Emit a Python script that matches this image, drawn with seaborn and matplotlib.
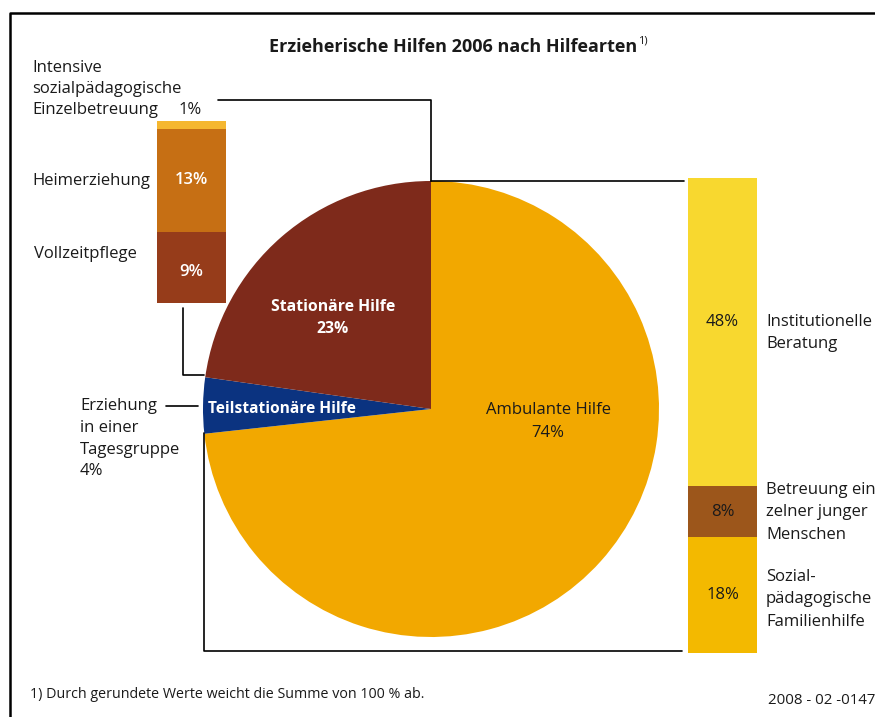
import matplotlib
matplotlib.use("Agg")
import matplotlib.pyplot as plt
import seaborn as sns
import numpy as np

# --- data ---
pie_labels = ["Ambulante Hilfe", "Teilstationäre Hilfe", "Stationäre Hilfe"]
pie_values = [74, 4, 23]
pie_colors = ["#F2A800", "#0B3380", "#7E2A1B"]

# stationary breakdown, listed bottom-up
stat_labels = ["Vollzeitpflege", "Heimerziehung", "Intensive sozialpädagogische Einzelbetreuung"]
stat_values = [9, 13, 1]
stat_colors = ["#963C1A", "#C66F14", "#F5B730"]

# ambulant breakdown, listed bottom-up
amb_labels = ["Sozialpädagogische Familienhilfe", "Betreuung einzelner junger Menschen",
              "Institutionelle Beratung"]
amb_values = [18, 8, 48]
amb_colors = ["#F3B900", "#9C561B", "#F8D82F"]

sns.set_theme(style="white")
plt.rcParams["font.family"] = ["Open Sans", "DejaVu Sans"]
TXT = "#1a1a1a"
W, H = 875, 717

fig = plt.figure(figsize=(W / 100, H / 100), dpi=100)
ax = fig.add_axes([0, 0, 1, 1])

# pie in pixel coordinates (y points down, so counterclock=True draws clockwise on screen)
ax.pie(pie_values, colors=pie_colors, startangle=-90, counterclock=True,
       center=(431, 409), radius=228, wedgeprops=dict(linewidth=0))
ax.set_xlim(0, W)
ax.set_ylim(H, 0)
ax.set_aspect("equal")
ax.axis("off")

# frame
ax.plot([10, 10, W], [H, 13, 13], color="black", lw=1.8, solid_capstyle="butt")

# connector lines
lk = dict(color="black", lw=1.2)
ax.plot([218, 431, 431], [100, 100, 181], **lk)
ax.plot([431, 684], [181, 181], **lk)
ax.plot([204, 204, 682], [433, 651, 651], **lk)
ax.plot([183, 183, 204], [308, 375, 375], **lk)
ax.plot([166, 198], [406, 406], **lk)


def stacked_bar(rect, values, colors):
    bax = fig.add_axes(rect)
    bottoms = np.concatenate([[0], np.cumsum(values)[:-1]])
    bax.bar(0, values, bottom=bottoms, width=1, color=colors, linewidth=0)
    bax.set_xlim(-0.5, 0.5)
    bax.set_ylim(0, sum(values))
    bax.axis("off")
    return bax, bottoms


def px_rect(x0, y0, x1, y1):
    return [x0 / W, (H - y1) / H, (x1 - x0) / W, (y1 - y0) / H]


lax, lb = stacked_bar(px_rect(157, 121, 226, 303), stat_values, stat_colors)
rax, rb = stacked_bar(px_rect(688, 178, 757, 653), amb_values, amb_colors)

fs = 12

# values inside the bars
lax.text(0, lb[1] + stat_values[1] / 2, f"{stat_values[1]}%", ha="center", va="center",
         color="white", fontsize=fs, fontweight="semibold")
lax.text(0, lb[0] + stat_values[0] * 0.43, f"{stat_values[0]}%", ha="center", va="center",
         color="white", fontsize=fs, fontweight="semibold")
for v, b in zip(amb_values, rb):
    rax.text(0, b + v / 2 + (1.5 if v == 48 else 0), f"{v}%", ha="center", va="center",
             color=TXT, fontsize=fs)

ax.text(32, 68, "Intensive", fontsize=fs, color=TXT, va="center")
ax.text(32, 89, "sozialpädagogische", fontsize=fs, color=TXT, va="center")
ax.text(32, 110, "Einzelbetreuung", fontsize=fs, color=TXT, va="center")
ax.text(190, 110, f"{stat_values[2]}%", fontsize=fs, color=TXT, va="center", ha="center")
ax.text(32, 181, "Heimerziehung", fontsize=fs, color=TXT, va="center")
ax.text(34, 254, "Vollzeitpflege", fontsize=fs, color=TXT, va="center")

for y, s in zip([406, 428, 450, 471], ["Erziehung", "in einer", "Tagesgruppe", f"{pie_values[1]}%"]):
    ax.text(80, y, s, fontsize=fs, color=TXT, va="center")

for y, s in zip([322, 344], ["Institutionelle", "Beratung"]):
    ax.text(766, y, s, fontsize=fs, color=TXT, va="center")
for y, s in zip([490, 512, 535], ["Betreuung ein-", "zelner junger", "Menschen"]):
    ax.text(766, y, s, fontsize=fs, color=TXT, va="center")
for y, s in zip([577, 599, 622], ["Sozial-", "pädagogische", "Familienhilfe"]):
    ax.text(766, y, s, fontsize=fs, color=TXT, va="center")

# labels inside the pie
ax.text(333, 307, pie_labels[2], fontsize=11.3, color="white", fontweight="bold",
        ha="center", va="center")
ax.text(333, 329, f"{pie_values[2]}%", fontsize=11.3, color="white", fontweight="bold",
        ha="center", va="center")
ax.text(208, 409, pie_labels[1], fontsize=11.2, color="white", fontweight="bold",
        ha="left", va="center")
ax.text(548, 410, pie_labels[0], fontsize=fs, color=TXT, ha="center", va="center")
ax.text(548, 433, f"{pie_values[0]}%", fontsize=fs, color=TXT, ha="center", va="center")

# title and footnotes
ax.text(637, 47, "Erzieherische Hilfen 2006 nach Hilfearten", fontsize=13,
        fontweight="bold", color=TXT, ha="right", va="center")
ax.text(638, 41, "1)", fontsize=8, color=TXT, ha="left", va="center")
ax.text(30, 694, "1) Durch gerundete Werte weicht die Summe von 100 % ab.", fontsize=10.3,
        color=TXT, va="center")
ax.text(768, 701, "2008 - 02 -0147", fontsize=10.8, color=TXT, va="center")

fig.savefig("out.png", dpi=100)
